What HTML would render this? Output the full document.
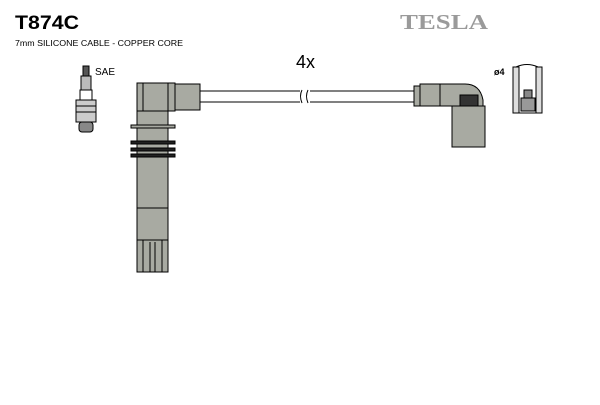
<!DOCTYPE html>
<html><head><meta charset="utf-8"><style>
body{margin:0;background:#fff;width:600px;height:400px;overflow:hidden;font-family:"Liberation Sans",sans-serif}
</style></head><body>
<svg width="600" height="400" xmlns="http://www.w3.org/2000/svg" font-family="Liberation Sans, sans-serif">
<text x="15" y="29" font-size="19" font-weight="bold" textLength="64" lengthAdjust="spacingAndGlyphs">T874C</text>
<text x="15" y="46" font-size="8.5" textLength="168" lengthAdjust="spacingAndGlyphs">7mm SILICONE CABLE - COPPER CORE</text>
<text x="400" y="29" font-size="21" font-weight="bold" fill="#9a9a9a" font-family="Liberation Serif, serif" textLength="88" lengthAdjust="spacingAndGlyphs">TESLA</text>
<text x="296" y="68" font-size="18">4x</text>
<text x="95" y="75" font-size="10">SAE</text>
<text x="494" y="75" font-size="9" font-weight="bold">ø4</text>
<!-- spark plug -->
<g stroke="#000" stroke-width="1" fill="#fff">
<rect x="83" y="66" width="6" height="10" fill="#555"/>
<rect x="81" y="76" width="10" height="14" fill="#bbb"/>
<rect x="80" y="90" width="12" height="10"/>
<rect x="76" y="100" width="20" height="22" fill="#ccc"/>
<line x1="76" y1="106" x2="96" y2="106"/><line x1="76" y1="112" x2="96" y2="112"/>
<rect x="79" y="122" width="14" height="10" rx="3" fill="#888"/>
</g>
<!-- cable -->
<g stroke="#000" stroke-width="1">
<line x1="200" y1="91" x2="300" y2="91"/><line x1="200" y1="102" x2="300" y2="102"/>
<line x1="310" y1="91" x2="414" y2="91"/><line x1="310" y1="102" x2="414" y2="102"/>
<path d="M302 90 q-3 6 0 13 M308 90 q-3 6 0 13" fill="none"/>
</g>
<!-- coil boot -->
<g stroke="#000" stroke-width="1" fill="#a8aaa2">
<rect x="175" y="84" width="25" height="26"/>
<rect x="137" y="83" width="38" height="28"/>
<line x1="143" y1="83" x2="143" y2="111"/><line x1="168" y1="83" x2="168" y2="111"/>
<rect x="137" y="111" width="31" height="97"/>
<rect x="131" y="125" width="44" height="3"/>
<rect x="131" y="141" width="44" height="3" fill="#222"/>
<rect x="131" y="148" width="44" height="3" fill="#222"/>
<rect x="131" y="154" width="44" height="3" fill="#222"/>
<rect x="137" y="208" width="31" height="32"/>
<rect x="137" y="240" width="31" height="32"/>
<line x1="143" y1="240" x2="143" y2="272"/><line x1="150" y1="242" x2="150" y2="272"/><line x1="155" y1="242" x2="155" y2="272"/><line x1="162" y1="240" x2="162" y2="272"/>
</g>
<!-- right boot -->
<g stroke="#000" stroke-width="1" fill="#a8aaa2">
<rect x="414" y="86" width="6" height="20"/>
<path d="M420 84 H465 Q480 84 483 100 V106 H420 Z"/>
<line x1="440" y1="84" x2="440" y2="106"/>
<rect x="452" y="106" width="33" height="41"/>
<rect x="460" y="95" width="18" height="11" fill="#333"/>
</g>
<!-- terminal -->
<g stroke="#000" stroke-width="1">
<path d="M516 67 Q527 62 538 67" fill="none"/>
<rect x="513" y="67" width="6" height="46" fill="#ddd"/>
<rect x="536" y="67" width="6" height="46" fill="#ddd"/>
<rect x="524" y="90" width="8" height="8" fill="#888"/>
<rect x="521" y="98" width="14" height="13" fill="#999"/>
<line x1="519" y1="113" x2="536" y2="113"/>
</g>
</svg>
</body></html>
